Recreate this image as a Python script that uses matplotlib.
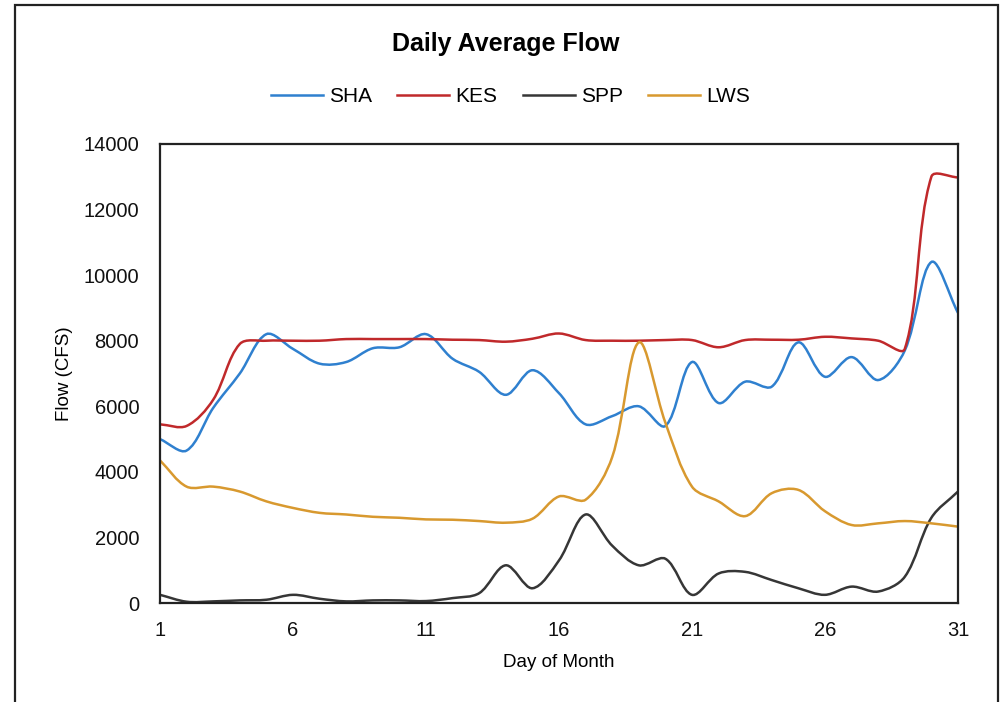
import numpy as np
import matplotlib
matplotlib.use("Agg")
import matplotlib.pyplot as plt
from matplotlib.path import Path
from matplotlib.patches import PathPatch, Rectangle
from matplotlib.lines import Line2D

plt.rcParams['font.family'] = ['Liberation Sans', 'DejaVu Sans']

# Datos
dias = list(range(1, 32))
sha = [5000, 4650, 5950, 7000, 8200, 7750, 7300, 7350, 7770, 7800, 8200, 7450,
       7050, 6350, 7100, 6400, 5450, 5700, 6000, 5400, 7350, 6100, 6750, 6600,
       7950, 6900, 7500, 6800, 7700, 10400, 8850]
kes = [5450, 5400, 6200, 7900, 8000, 8000, 8000, 8050, 8050, 8050, 8050, 8030,
       8020, 7970, 8060, 8220, 8020, 8000, 8000, 8020, 8020, 7800, 8020, 8030,
       8030, 8120, 8070, 8000, 7750, 13000, 12980]
spp = [250, 40, 50, 80, 100, 250, 130, 50, 80, 80, 60, 150,
       300, 1150, 450, 1300, 2700, 1750, 1150, 1350, 250, 900, 950, 700,
       450, 250, 500, 350, 800, 2600, 3400]
lws = [4350, 3550, 3550, 3400, 3100, 2900, 2750, 2700, 2630, 2600, 2550, 2540,
       2500, 2450, 2570, 3250, 3150, 4450, 7950, 5500, 3550, 3100, 2650, 3350,
       3450, 2800, 2380, 2430, 2500, 2430, 2330]

series = [("SHA", sha, "#2f80cf"), ("KES", kes, "#c0292b"),
          ("SPP", spp, "#363636"), ("LWS", lws, "#d8992f")]

# escala aproximada en pixeles (para el suavizado)
SX, SY = 26.6, 0.03279


def curva_suave(x, y):
    # linea suavizada tipo Excel: Bezier con tangentes ponderadas por longitud
    pts = np.column_stack([x, y]).astype(float)
    p = np.vstack([pts[0], pts, pts[-1]])
    esc = np.array([SX, SY])
    lon = np.linalg.norm(np.diff(p * esc, axis=0), axis=1)
    verts = [pts[0]]
    codes = [Path.MOVETO]
    for i in range(1, len(p) - 2):
        L0, L1, L2 = lon[i - 1], lon[i], lon[i + 1]
        f1 = L1 / (L0 + L1) if L0 + L1 > 0 else 0.5
        f2 = L1 / (L1 + L2) if L1 + L2 > 0 else 0.5
        c1 = p[i] + (p[i + 1] - p[i - 1]) * f1 / 3
        c2 = p[i + 1] - (p[i + 2] - p[i]) * f2 / 3
        verts += [c1, c2, p[i + 1]]
        codes += [Path.CURVE4] * 3
    return Path(verts, codes)


fig = plt.figure(figsize=(10.05, 7.02), dpi=100)
ax = fig.add_axes([0.1592, 0.141, 0.794, 0.6539])

handles = []
for nombre, vals, color in series:
    ax.add_patch(PathPatch(curva_suave(dias, vals), facecolor="none",
                           edgecolor=color, lw=1.8))
    handles.append(Line2D([], [], color=color, lw=1.8, label=nombre))

ax.set_xlim(1, 31)
ax.set_ylim(0, 14000)
ax.set_xticks(range(1, 32, 5))
ax.set_yticks(range(0, 14001, 2000))
ax.tick_params(length=0, labelsize=14.5, colors="#111111")
ax.tick_params(axis="y", pad=15)
ax.tick_params(axis="x", pad=13)
for s in ax.spines.values():
    s.set_linewidth(1.6)
    s.set_color("#222222")

ax.set_xlabel("Day of Month", fontsize=13.5)
ax.set_ylabel("Flow (CFS)", fontsize=13.5)
ax.xaxis.set_label_coords(0.5, -0.112)
ax.yaxis.set_label_coords(-0.109, 0.5)

fig.text(0.503, 1 - 50.5 / 702, "Daily Average Flow", ha="center",
         va="baseline", fontsize=18, fontweight="bold")
fig.legend(handles=handles, loc="center", bbox_to_anchor=(0.508, 1 - 96.5 / 702),
           ncol=4, frameon=False, fontsize=15, handlelength=2.5,
           handletextpad=0.3, columnspacing=1.2)

# borde exterior
fig.patches.append(Rectangle((15 / 1005, -0.01), 983 / 1005, 1 - 5 / 702 + 0.01,
                             transform=fig.transFigure, fill=False,
                             edgecolor="#222222", lw=1.6))

fig.savefig("out.png", dpi=100)
